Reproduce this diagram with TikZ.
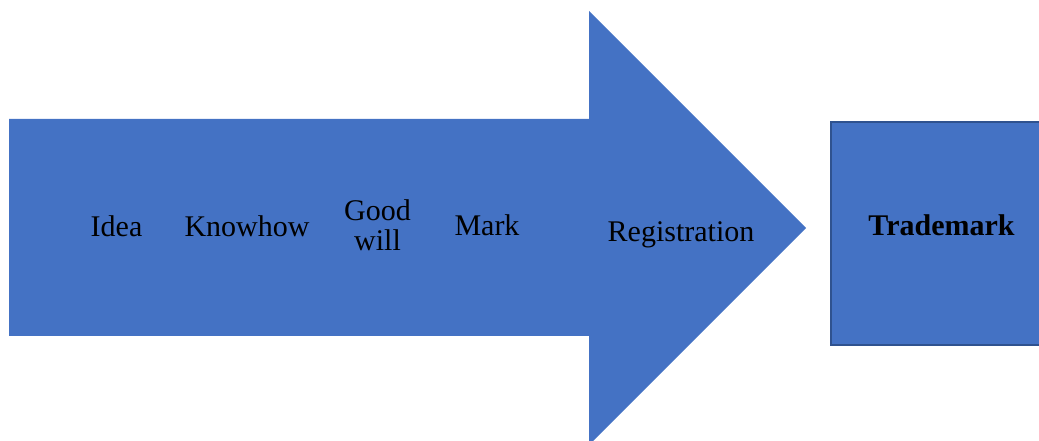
\documentclass[tikz,border=0pt]{standalone}
\usepackage{fontspec}
\setmainfont{Liberation Serif}
\begin{document}
\begin{tikzpicture}[x=1pt,y=1pt,
  blockfill/.style={fill={rgb,255:red,68;green,114;blue,196}},
  label/.style={font=\fontsize{30}{30}\selectfont, text=black, inner sep=0pt, anchor=base},
  boxedge/.style={draw={rgb,255:red,47;green,82;blue,143}, line width=2pt}]
  \useasboundingbox (0,0) rectangle (1039,441);
  \clip (0,0) rectangle (1039,441);
  % big block arrow
  \path[blockfill] (9,322) -- (589,322) -- (589,430) -- (806,213)
        -- (589,-4) -- (589,105) -- (9,105) -- cycle;
  % target box
  \path[blockfill, boxedge] (831,319) rectangle (1045,96);
  % labels inside the arrow
  \node[label] (idea) at (116.5,204) {Idea};
  \node[label] (know) at (247,204) {Knowhow};
  \node[label, align=center] (good) at (377.5,190) {Good\\will};
  \node[label] (mark) at (487,205) {Mark};
  \node[label] (reg) at (681,199) {Registration};
  \node[label, font=\fontsize{30}{30}\selectfont\bfseries] (tm) at (941.5,205) {Trademark};
\end{tikzpicture}
\end{document}
